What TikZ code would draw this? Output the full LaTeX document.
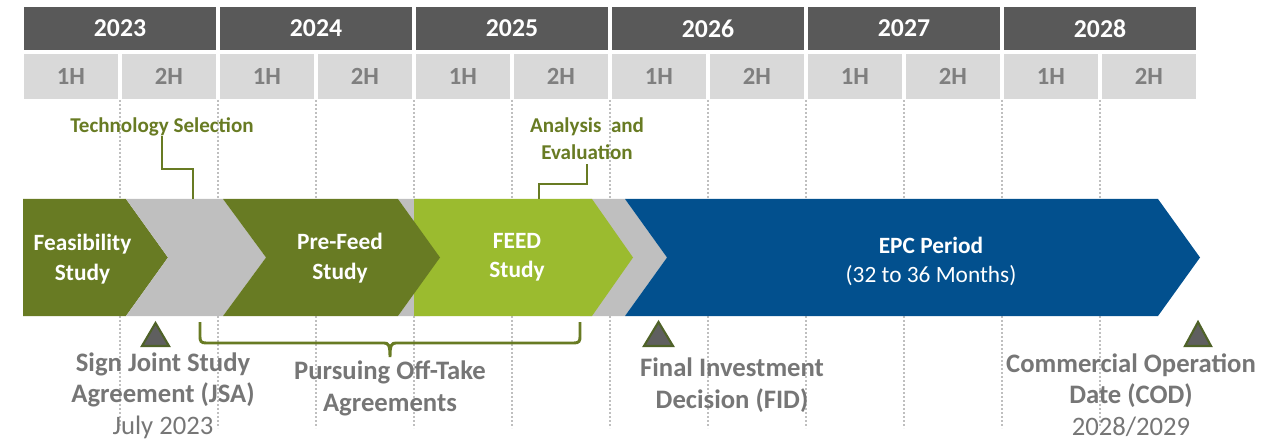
\documentclass[tikz,border=0pt]{standalone}
\usepackage{fontspec}
\setmainfont{Carlito}
\definecolor{cHdr}{RGB}{89,89,89}
\definecolor{cSub}{RGB}{217,217,217}
\definecolor{cSubTxt}{RGB}{127,127,127}
\definecolor{cOlive}{RGB}{104,123,35}
\definecolor{cLight}{RGB}{155,187,47}
\definecolor{cGrayChev}{RGB}{191,191,191}
\definecolor{cBlue}{RGB}{2,80,142}
\definecolor{cLbl}{RGB}{118,118,118}
\definecolor{cTriEdge}{RGB}{79,98,40}
\definecolor{cTriFill}{RGB}{95,95,95}
\definecolor{cDot}{RGB}{191,191,191}
\begin{document}
\begin{tikzpicture}[x=0.75pt,y=-0.75pt,
  yearbox/.style={fill=cHdr, draw=none, text=white, minimum width=144pt, minimum height=32.25pt, inner sep=0pt,
    font=\bfseries\fontsize{19.3}{22}\selectfont},
  halfbox/.style={fill=cSub, draw=none, text=cSubTxt, minimum width=70.5pt, minimum height=33.75pt, inner sep=0pt,
    font=\bfseries\fontsize{18.5}{22}\selectfont},
  dotline/.style={draw=cDot, line width=1.4pt, dash pattern=on 1.4pt off 1.6pt},
  chevtxt/.style={text=white, align=center, inner sep=0pt, font=\bfseries\fontsize{17.5}{22}\selectfont},
  calltxt/.style={text=cOlive, align=center, inner sep=0pt, font=\bfseries\fontsize{15.8}{20}\selectfont},
  callout/.style={draw=cOlive, line width=1.1pt},
  lbl/.style={text=cLbl, align=center, inner sep=0pt, font=\bfseries\fontsize{20}{23.5}\selectfont},
  tri/.style={fill=cTriFill, draw=cTriEdge, line width=1.6pt, line join=miter},
  bracket/.style={draw=cOlive, line width=2.2pt}
]
\useasboundingbox (0,0) rectangle (1262,441);

% year header
\foreach \i/\yr in {0/2023,1/2024,2/2025,3/2026,4/2027,5/2028}{
  \node[yearbox] (y\yr) at ({120+196*\i},28.5) {\yr};
  \node[halfbox] (h\yr a) at ({71+196*\i},76.5) {1H};
  \node[halfbox] (h\yr b) at ({169+196*\i},76.5) {2H};
}

% dotted guide lines
\foreach \k in {1,...,11}{
  \draw[dotline] ({22+98*\k},100) -- ({22+98*\k},428);
}

% chevrons
\fill[cOlive] (23,199) -- (126,199) -- (168,257.5) -- (126,316) -- (23,316) -- cycle;
\fill[cGrayChev] (126,199) -- (223,199) -- (266,257.5) -- (223,316) -- (126,316) -- (168,257.5) -- cycle;
\fill[cGrayChev] (398,199) -- (430,199) -- (430,316) -- (398,316) -- (440,257.5) -- cycle;
\fill[cGrayChev] (580,199) -- (625,199) -- (667,257.5) -- (625,316) -- (580,316) -- cycle;
\fill[cLight] (414,199) -- (592,199) -- (633,257.5) -- (592,316) -- (414,316) -- cycle;
\fill[cOlive] (223,199) -- (398,199) -- (440,257.5) -- (398,316) -- (223,316) -- (266,257.5) -- cycle;
\fill[cBlue] (625,199) -- (1158,199) -- (1200,257.5) -- (1158,316) -- (625,316) -- (667,257.5) -- cycle;

% chevron texts
\node[chevtxt] (feas) at (82.5,259.3) {Feasibility\\Study};
\node[chevtxt] (prefeed) at (340,258) {Pre-Feed\\Study};
\node[chevtxt] (feed) at (517,257) {FEED\\Study};
\node[chevtxt] (epc) at (931,261.5) {EPC Period\\{\mdseries (32 to 36 Months)}};

% callouts
\node[calltxt] (tech) at (162,127) {Technology Selection};
\coordinate (techk) at (162,169);
\coordinate (techend) at (193,199);
\draw[callout] (tech.south) -- (techk) -| (techend);

\node[calltxt] (anal) at (587,139) {Analysis\ \ and\\Evaluation};
\coordinate (analk) at (587,184);
\coordinate (analend) at (539,199);
\draw[callout] (anal.south) ++(0,4) -- (analk) -| (analend);

% milestones
\draw[tri] (142,346) -- (169,346) -- (155.5,323) -- cycle;
\draw[tri] (644,346) -- (673,346) -- (658.5,322) -- cycle;
\draw[tri] (1185,346) -- (1211,346) -- (1198,322) -- cycle;

% bracket
\coordinate (brL) at (200,322);
\coordinate (brR) at (580,322);
\draw[bracket] (brL) -- (200,337) .. controls (200,341) and (201,343) .. (206,343) -- (384,343)
  .. controls (388.5,343) and (390,345) .. (390,357)
  .. controls (390,345) and (391.5,343) .. (396,343) -- (574,343)
  .. controls (579,343) and (580,341) .. (580,337) -- (brR);

% labels
\node[lbl] (jsa) at (163,395.5) {Sign Joint Study\\Agreement (JSA)\\{\mdseries July 2023}};
\node[lbl] (offtake) at (390,388.5) {Pursuing Off-Take\\Agreements};
\node[lbl] (fid) at (732,385) {Final Investment\\Decision (FID)};
\node[lbl] (cod) at (1131,395) {Commercial Operation\\Date (COD)\\{\mdseries 2028/2029}};
\end{tikzpicture}
\end{document}
